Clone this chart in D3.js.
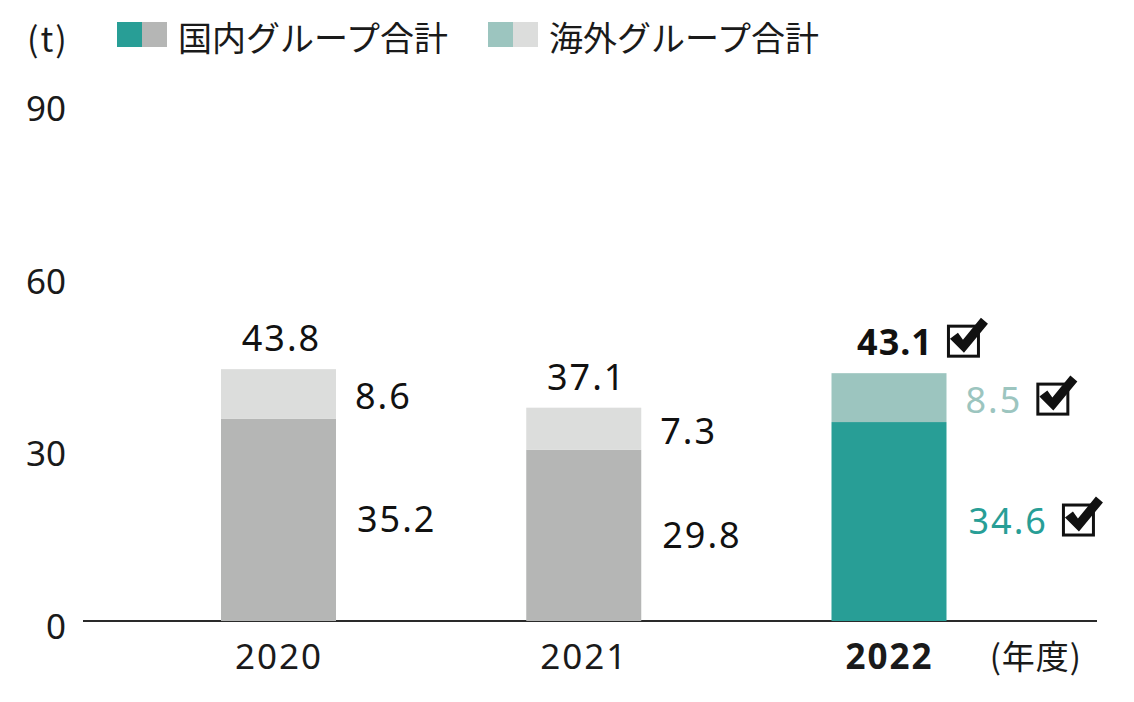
<!DOCTYPE html>
<html>
<head>
<meta charset="utf-8">
<script src="https://cdn.jsdelivr.net/npm/d3@7"></script>
<style>
  body { margin: 0; background: #fff; }
  text { font-family: "Noto Sans", "Noto Sans CJK JP", sans-serif; }
  .jp { font-family: "Noto Sans CJK JP", sans-serif; }
</style>
</head>
<body>
<div class="chart-div"></div>
<script>
// data
var years = ["2020", "2021", "2022"];
var domestic = [35.2, 29.8, 34.6];
var overseas = [8.6, 7.3, 8.5];
var totals = [43.8, 37.1, 43.1];
var yTicks = [0, 30, 60, 90];
var highlightYear = "2022";

var width = 1134;
var height = 702;
var barWidth = 115;

var colors = {
    domestic: "#b5b6b5",
    overseas: "#dcdddc",
    domesticHi: "#289e96",
    overseasHi: "#9cc5bf"
};

var svg = d3.select(".chart-div")
    .append("svg")
        .attr("width", width)
        .attr("height", height);

var x = d3.scalePoint()
    .domain(years)
    .range([278.5, 889]);

var y = d3.scaleLinear()
    .domain([0, 90])
    .range([621, 103.5]);

drawLegend(svg);
drawAxes(svg);
drawBars(svg);
drawLabels(svg);

function drawLegend(svg) {
    svg.append("text")
        .attr("class", "jp")
        .attr("x", 27)
        .attr("y", 37)
        .attr("dominant-baseline", "central")
        .attr("font-size", "34px")
        .attr("letter-spacing", "2px")
        .attr("fill", "#1a1a1a")
        .text("(t)");
    var items = [
        {x: 117, c1: colors.domesticHi, c2: colors.domestic, label: "国内グループ合計"},
        {x: 488, c1: colors.overseasHi, c2: colors.overseas, label: "海外グループ合計"}
    ];
    items.forEach(function(d) {
        svg.append("rect").attr("x", d.x).attr("y", 22).attr("width", 25).attr("height", 25).attr("fill", d.c1);
        svg.append("rect").attr("x", d.x + 25).attr("y", 22).attr("width", 25).attr("height", 25).attr("fill", d.c2);
        svg.append("text")
            .attr("class", "jp")
            .attr("x", d.x + 61)
            .attr("y", 36)
            .attr("dominant-baseline", "central")
            .attr("font-size", "34px")
            .attr("fill", "#1a1a1a")
            .text(d.label);
    });
}

function drawAxes(svg) {
    var yAxis = svg.append("g")
        .attr("transform", "translate(66,6)")
        .call(d3.axisLeft(y).tickValues(yTicks).tickSize(0).tickPadding(0));
    yAxis.select(".domain").remove();
    yAxis.selectAll("text")
        .attr("font-family", "Noto Sans")
        .attr("font-size", "35px")
        .attr("fill", "#1a1a1a");

    svg.append("line")
        .attr("x1", 83)
        .attr("x2", 1097)
        .attr("y1", y(0))
        .attr("y2", y(0))
        .attr("stroke", "#2a2a2a")
        .attr("stroke-width", 2);

    var xAxis = svg.append("g")
        .attr("transform", "translate(0," + y(0) + ")")
        .call(d3.axisBottom(x).tickSize(0).tickPadding(0));
    xAxis.select(".domain").remove();
    xAxis.selectAll("text")
        .attr("y", 34)
        .attr("dy", 0)
        .attr("dominant-baseline", "central")
        .attr("font-family", "Noto Sans")
        .attr("font-size", "35px")
        .attr("letter-spacing", "2px")
        .attr("fill", "#1a1a1a")
        .attr("font-weight", function(d) { return d === highlightYear ? "bold" : "normal"; });

    svg.append("text")
        .attr("class", "jp")
        .attr("x", 1082)
        .attr("y", y(0) + 34)
        .attr("text-anchor", "end")
        .attr("dominant-baseline", "central")
        .attr("font-size", "33px")
        .attr("letter-spacing", "1px")
        .attr("fill", "#1a1a1a")
        .text("(年度)");
}

function drawBars(svg) {
    var g = svg.append("g");
    g.selectAll(".dom")
        .data(years)
        .enter().append("rect")
            .attr("x", function(d) { return x(d) - barWidth / 2; })
            .attr("y", function(d, i) { return y(domestic[i]); })
            .attr("width", barWidth)
            .attr("height", function(d, i) { return y(0) - y(domestic[i]); })
            .attr("fill", function(d) { return d === highlightYear ? colors.domesticHi : colors.domestic; });
    g.selectAll(".ovs")
        .data(years)
        .enter().append("rect")
            .attr("x", function(d) { return x(d) - barWidth / 2; })
            .attr("y", function(d, i) { return y(domestic[i] + overseas[i]); })
            .attr("width", barWidth)
            .attr("height", function(d, i) { return y(domestic[i]) - y(domestic[i] + overseas[i]); })
            .attr("fill", function(d) { return d === highlightYear ? colors.overseasHi : colors.overseas; });
}

function drawCheck(svg, cx, cy) {
    // box + tick
    var g = svg.append("g").attr("transform", "translate(" + cx + "," + cy + ")");
    g.append("rect")
        .attr("x", 1.5).attr("y", 1.5)
        .attr("width", 30).attr("height", 30)
        .attr("fill", "none")
        .attr("stroke", "#111")
        .attr("stroke-width", 3);
    g.append("path")
        .attr("d", "M3,14 L11,8 L16,15 L34,-7 L41,-1 L17,28 Z")
        .attr("fill", "#111");
}

function drawLabels(svg) {
    years.forEach(function(yr, i) {
        var hi = yr === highlightYear;
        var cx = x(yr);
        var right = cx + barWidth / 2;
        var top = y(totals[i]);

        var t = svg.append("text")
            .attr("x", cx + (hi ? 6 : 3))
            .attr("y", top - 18)
            .attr("text-anchor", "middle")
            .attr("font-size", "36px")
            .attr("letter-spacing", hi ? "1px" : "2px")
            .attr("font-weight", hi ? "bold" : "normal")
            .attr("fill", "#111")
            .text(totals[i].toFixed(1));

        var o = svg.append("text")
            .attr("x", right + 19)
            .attr("y", (y(domestic[i]) + top) / 2 + 2)
            .attr("dominant-baseline", "central")
            .attr("font-size", "36px")
            .attr("letter-spacing", "2px")
            .attr("fill", hi ? colors.overseasHi : "#111")
            .text(overseas[i].toFixed(1));

        var d = svg.append("text")
            .attr("x", right + (hi ? 22 : 21))
            .attr("y", (y(0) + y(domestic[i])) / 2 - 1)
            .attr("dominant-baseline", "central")
            .attr("font-size", "36px")
            .attr("letter-spacing", "2px")
            .attr("fill", hi ? colors.domesticHi : "#111")
            .text(domestic[i].toFixed(1));

        if (hi) {
            [t, o, d].forEach(function(el) {
                var b = el.node().getBBox();
                drawCheck(svg, b.x + b.width + 14, b.y + b.height / 2 - 17);
            });
        }
    });
}
</script>
</body>
</html>
